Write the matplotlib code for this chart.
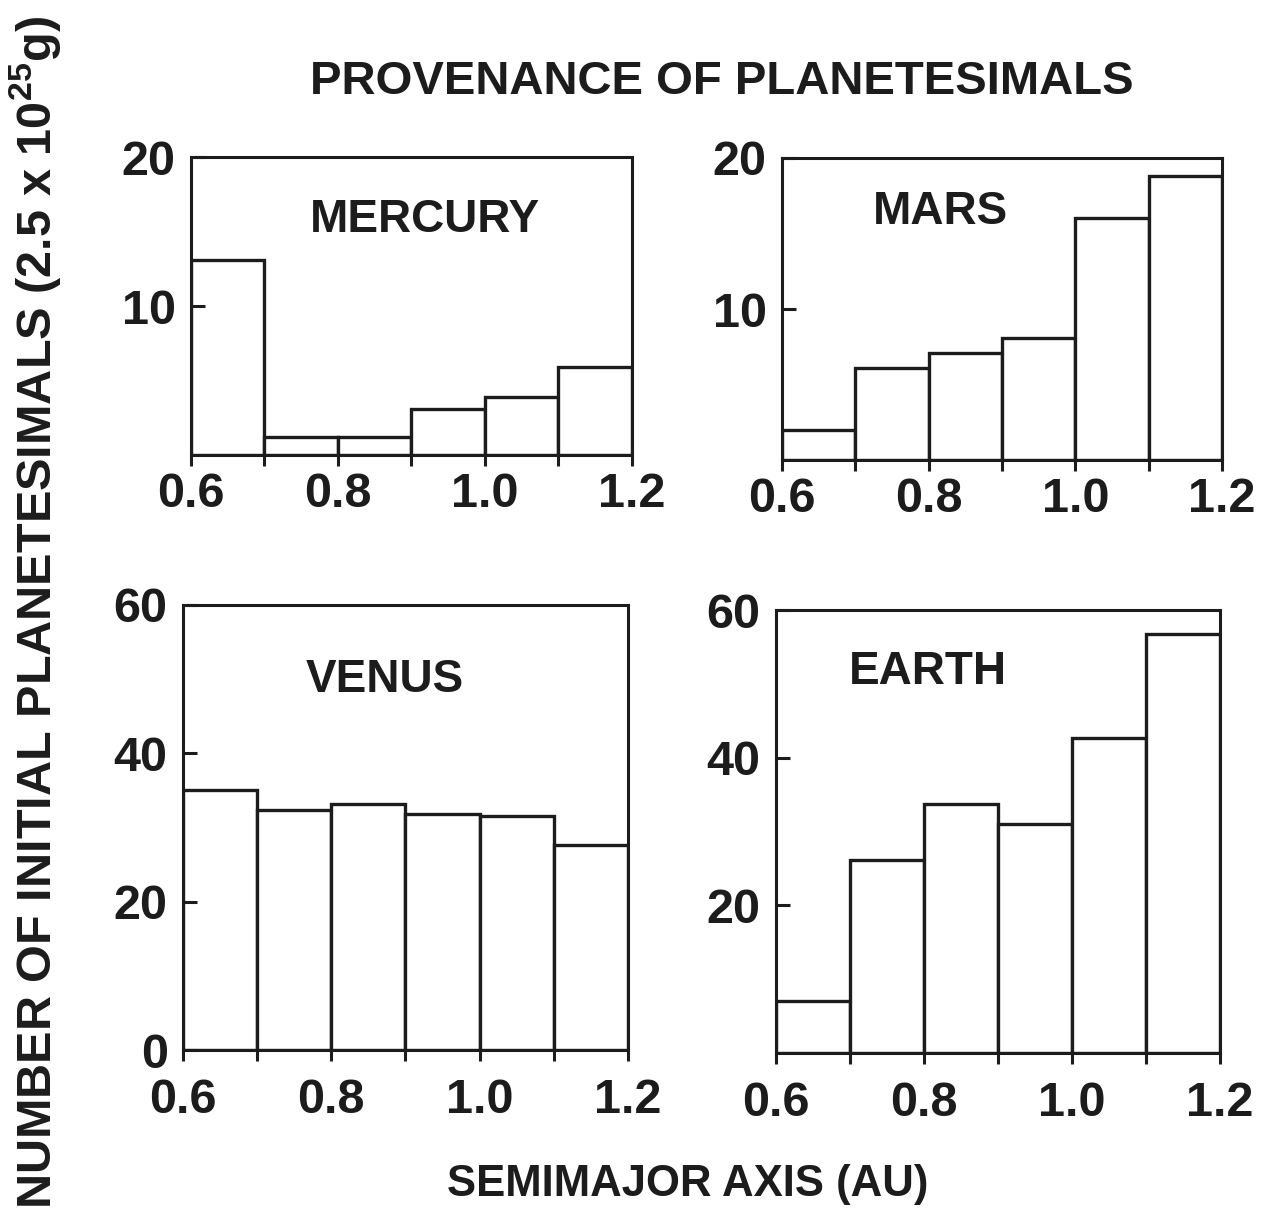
import matplotlib
matplotlib.use('Agg')
import matplotlib.pyplot as plt
from matplotlib.ticker import FixedLocator

plt.rcParams['font.family'] = ['Liberation Sans', 'DejaVu Sans']
plt.rcParams['font.weight'] = 'bold'
plt.rcParams['mathtext.fontset'] = 'custom'
plt.rcParams['mathtext.rm'] = 'Liberation Sans:bold'
plt.rcParams['mathtext.default'] = 'rm'

INK = '#1c1c1c'

# bin edges in AU, counts per 0.1 AU bin
bin_edges = [0.6, 0.7, 0.8, 0.9, 1.0, 1.1, 1.2]
mercury = [13.1, 1.2, 1.2, 3.1, 3.9, 5.9]
mars = [2.0, 6.1, 7.1, 8.1, 16.0, 18.8]
venus = [35.1, 32.3, 33.2, 31.8, 31.5, 27.7]
earth = [7.1, 26.1, 33.7, 31.0, 42.7, 56.8]

x_major = [0.6, 0.8, 1.0, 1.2]
x_minor = [0.7, 0.9, 1.1]
x_labels = ['0.6', '0.8', '1.0', '1.2']

# name, counts, ymax, yticks, ytick labels, axes rect, name position, x label pad
PANELS = [
    ['MERCURY', mercury, 20, [10, 20], ['10', '20'], [0.1513, 0.627, 0.3495, 0.2443], (0.53, 0.79), 4],
    ['MARS', mars, 20, [10, 20], ['10', '20'], [0.6197, 0.6229, 0.3486, 0.2476], (0.36, 0.82), 4],
    ['VENUS', venus, 60, [0, 20, 40, 60], ['0', '20', '40', '60'], [0.145, 0.1393, 0.3526, 0.3648], (0.454, 0.832), 12],
    ['EARTH', earth, 60, [20, 40, 60], ['20', '40', '60'], [0.6149, 0.1368, 0.3518, 0.3632], (0.342, 0.86), 12],
]


def draw_panel(fig, name, counts, ymax, yticks, ylabels, rect, name_pos, xpad):
    ax = fig.add_axes(rect)
    widths = [bin_edges[i + 1] - bin_edges[i] for i in range(len(counts))]
    ax.bar(bin_edges[:-1], counts, width=widths, align='edge',
           facecolor='white', edgecolor=INK, linewidth=2.4)
    ax.set_xlim(bin_edges[0], bin_edges[-1])
    ax.set_ylim(0, ymax)

    ax.xaxis.set_major_locator(FixedLocator(x_major))
    ax.xaxis.set_minor_locator(FixedLocator(x_minor))
    ax.set_xticklabels(x_labels)
    ax.set_yticks(yticks)
    ax.set_yticklabels(ylabels)

    ax.tick_params(axis='x', which='both', direction='out', length=8, width=2.2,
                   color=INK, labelsize=35, labelcolor=INK, pad=xpad)
    ax.tick_params(axis='y', direction='in', length=10, width=2.2,
                   color=INK, labelsize=35, labelcolor=INK, pad=11)
    for sp in ax.spines.values():
        sp.set_linewidth(2.2)
        sp.set_color(INK)

    ax.text(name_pos[0], name_pos[1], name, transform=ax.transAxes,
            ha='center', va='center', fontsize=33, color=INK)
    return ax


fig = plt.figure(figsize=(12.62, 12.2), dpi=100)
for p in PANELS:
    draw_panel(fig, *p)

fig.text(0.572, 0.933, 'PROVENANCE OF PLANETESIMALS', ha='center', va='center',
         fontsize=34, color=INK)
fig.text(0.545, 0.029, 'SEMIMAJOR AXIS (AU)', ha='center', va='center',
         fontsize=31.5, color=INK)
fig.text(0.028, 0.498, r'NUMBER OF INITIAL PLANETESIMALS (2.5 x 10$^{25}$g)',
         ha='center', va='center', rotation=90, fontsize=35, color=INK)

fig.savefig('out.png', dpi=100, facecolor='white')
